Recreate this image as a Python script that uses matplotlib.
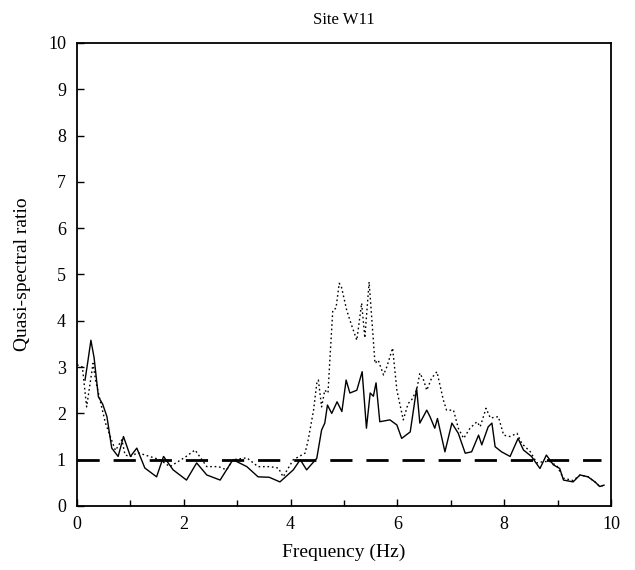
import matplotlib
matplotlib.use("Agg")
import matplotlib.pyplot as plt
from matplotlib.ticker import MultipleLocator

plt.rcParams['font.family'] = ['Liberation Serif', 'DejaVu Serif']

# solid curve (frequency in Hz, ratio)
solid_f = [0.15, 0.2, 0.26, 0.32, 0.4, 0.48, 0.56, 0.65, 0.77, 0.87, 1.0, 1.12, 1.27, 1.49,
           1.62, 1.8, 2.05, 2.24, 2.43, 2.68, 2.92, 3.18, 3.39, 3.6, 3.8, 4.05, 4.18, 4.3,
           4.49, 4.58, 4.64, 4.69, 4.77, 4.87, 4.96, 5.04, 5.11, 5.24, 5.34, 5.42, 5.49,
           5.55, 5.6, 5.67, 5.86, 5.99, 6.08, 6.24, 6.36, 6.42, 6.55, 6.61, 6.7, 6.75,
           6.89, 7.02, 7.14, 7.27, 7.39, 7.52, 7.58, 7.7, 7.77, 7.83, 7.95, 8.11, 8.26,
           8.36, 8.51, 8.67, 8.79, 8.92, 9.04, 9.11, 9.29, 9.42, 9.57, 9.7, 9.79, 9.87]
solid_r = [2.72, 3.1, 3.58, 3.2, 2.36, 2.2, 1.93, 1.25, 1.07, 1.5, 1.07, 1.25, 0.82, 0.63,
           1.07, 0.78, 0.56, 0.93, 0.67, 0.56, 1.0, 0.85, 0.63, 0.62, 0.52, 0.78, 1.0, 0.78,
           1.03, 1.64, 1.79, 2.18, 2.0, 2.25, 2.04, 2.72, 2.44, 2.5, 2.9, 1.68, 2.44,
           2.37, 2.66, 1.82, 1.86, 1.75, 1.46, 1.6, 2.54, 1.79, 2.07, 1.93, 1.68, 1.89,
           1.17, 1.79, 1.57, 1.14, 1.17, 1.53, 1.32, 1.71, 1.79, 1.28, 1.17, 1.07, 1.46,
           1.21, 1.07, 0.81, 1.1, 0.89, 0.81, 0.56, 0.52, 0.67, 0.63, 0.52, 0.42, 0.45]

# dotted curve
dot_f = [0.0, 0.1, 0.18, 0.3, 0.35, 0.43, 0.53, 0.68, 0.72, 0.84, 0.9, 1.0, 1.14, 1.55,
         1.74, 2.02, 2.21, 2.43, 2.65, 2.8, 2.92, 3.18, 3.39, 3.61, 3.77, 3.86, 4.05, 4.27,
         4.33, 4.43, 4.49, 4.52, 4.58, 4.64, 4.7, 4.74, 4.79, 4.85, 4.91, 4.95, 5.05, 5.14,
         5.24, 5.33, 5.39, 5.47, 5.54, 5.58, 5.64, 5.74, 5.8, 5.91, 5.99, 6.05, 6.11, 6.2,
         6.27, 6.36, 6.42, 6.49, 6.55, 6.64, 6.74, 6.86, 6.92, 7.05, 7.14, 7.24, 7.36, 7.49,
         7.55, 7.66, 7.74, 7.89, 7.99, 8.11, 8.24, 8.33, 8.49, 8.61, 8.74, 8.86, 8.99,
         9.11, 9.29, 9.42, 9.57, 9.7, 9.79, 9.87]
dot_r = [3.05, 3.0, 2.14, 3.08, 2.7, 2.29, 1.8, 1.32, 1.2, 1.43, 1.1, 1.07, 1.15, 1.0,
         0.85, 1.05, 1.21, 0.85, 0.85, 0.78, 1.0, 1.04, 0.85, 0.85, 0.82, 0.63, 1.0, 1.14,
         1.43, 2.07, 2.65, 2.72, 2.14, 2.5, 2.44, 3.26, 4.23, 4.27, 4.81, 4.74, 4.23, 3.91,
         3.58, 4.38, 3.63, 4.84, 3.73, 3.08, 3.15, 2.83, 3.0, 3.41, 2.5, 2.18, 1.86, 2.21,
         2.3, 2.5, 2.87, 2.72, 2.5, 2.76, 2.9, 2.29, 2.07, 2.07, 1.68, 1.46, 1.68, 1.82,
         1.71, 2.11, 1.9, 1.93, 1.53, 1.5, 1.57, 1.35, 1.17, 0.93, 0.96, 0.96, 0.86,
         0.6, 0.55, 0.67, 0.63, 0.52, 0.42, 0.45]

ref_f = [0.0, 9.82]
ref_r = [1.0, 1.0]

fig = plt.figure(figsize=(6.35, 5.7), dpi=100)
ax = fig.add_axes([0.1213, 0.1123, 0.8409, 0.8123])

ax.plot(solid_f, solid_r, color='black', lw=1.0)
ax.plot(dot_f, dot_r, color='black', lw=1.0, linestyle=(0, (1.2, 2.0)))
ax.plot(ref_f, ref_r, color='black', lw=2.0, linestyle=(0, (8, 5)))

ax.set_xlim(0, 10)
ax.set_ylim(0, 10)
ax.xaxis.set_major_locator(MultipleLocator(2))
ax.xaxis.set_minor_locator(MultipleLocator(1))
ax.yaxis.set_major_locator(MultipleLocator(1))
ax.tick_params(direction='in', which='both', labelsize=13, length=5, width=1.0)
ax.tick_params(axis='x', pad=7)
ax.tick_params(axis='y', pad=8)
ax.tick_params(which='minor', length=4)
for s in ax.spines.values():
    s.set_linewidth(1.3)

ax.set_xlabel('Frequency (Hz)', fontsize=14, labelpad=8)
ax.set_ylabel('Quasi-spectral ratio', fontsize=14, labelpad=12)
ax.set_title('Site W11', fontsize=12, pad=14)

fig.savefig('out.png', dpi=100)
